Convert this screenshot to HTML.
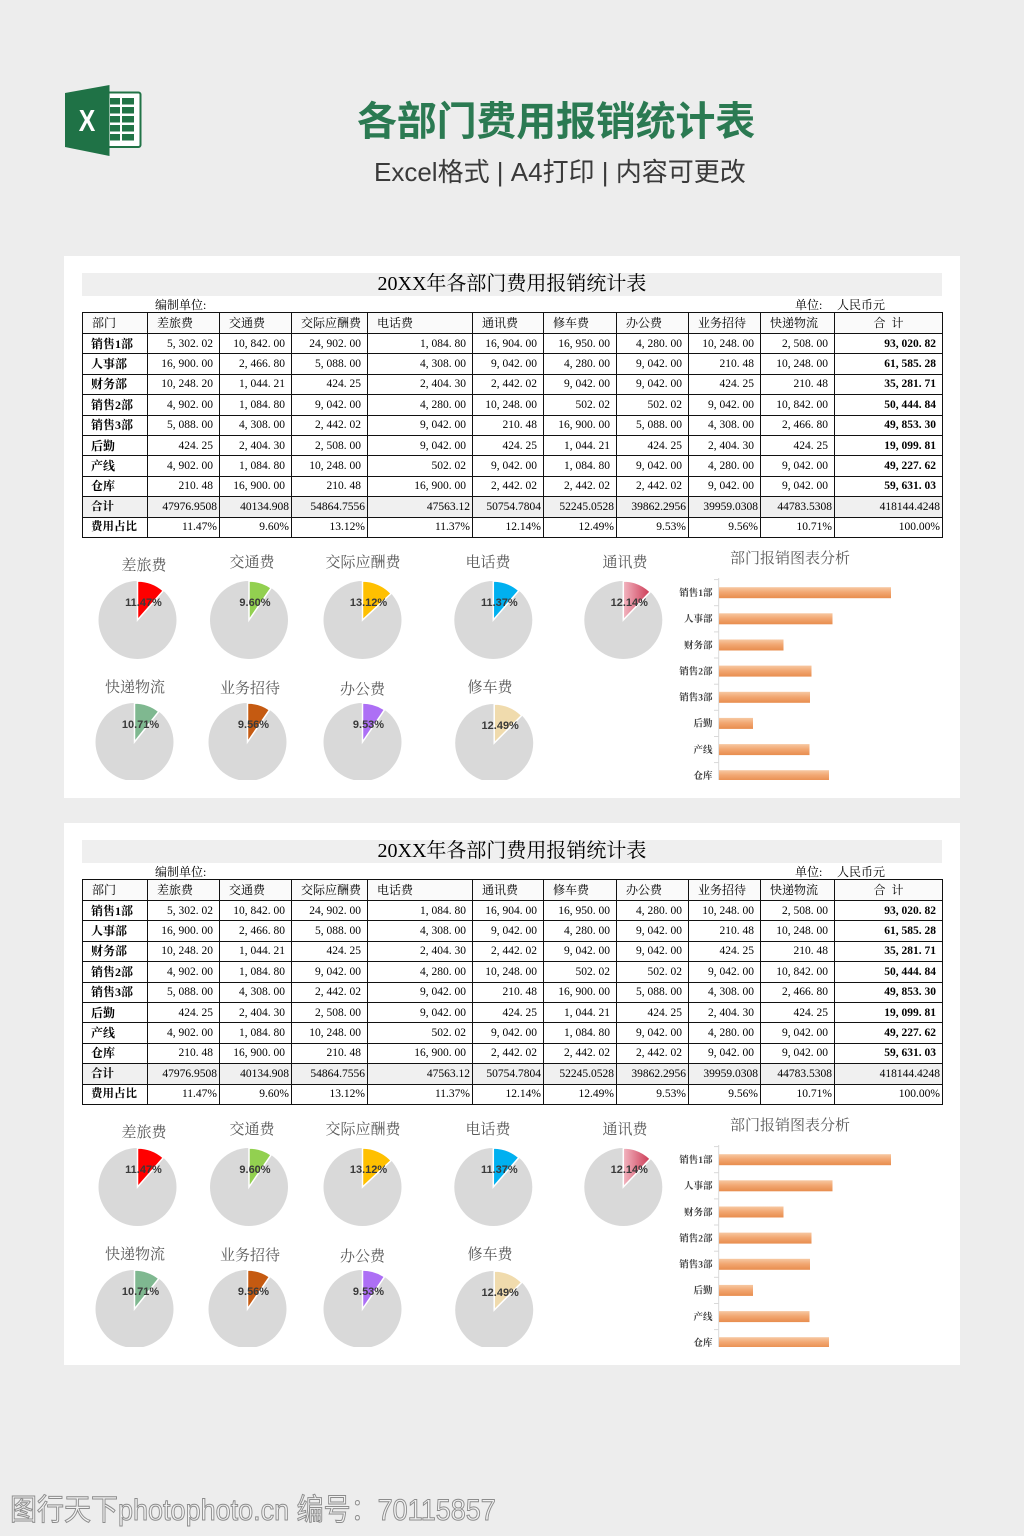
<!DOCTYPE html>
<html><head><meta charset="utf-8">
<style>
*{margin:0;padding:0;box-sizing:border-box}
html,body{width:1024px;height:1536px;background:#ededed;overflow:hidden;position:relative}
.abs{position:absolute}
.title{position:absolute;left:357px;top:94px;font:bold 40px/48px "Noto Sans CJK SC",sans-serif;color:#2b7a52;letter-spacing:-0.2px;white-space:nowrap}
.sub{position:absolute;left:374px;top:155px;font:26px/34px "Liberation Sans","Noto Sans CJK SC",sans-serif;color:#3a3a3a;white-space:nowrap}
.panel{position:absolute;left:64px;width:896px;height:542px;background:#fff}
.band{position:absolute;left:18px;top:17px;width:860px;height:23px;background:#efefef;font:20px/23px "Liberation Serif","Noto Serif CJK SC",serif;color:#000;text-align:center}
.u{position:absolute;top:42px;font:12px/14px "Liberation Serif","Noto Serif CJK SC",serif;color:#000;white-space:nowrap}
table{position:absolute;left:18px;top:56px;width:860px;border-collapse:collapse;table-layout:fixed;border:1.5px solid #000;font-family:"Liberation Serif","Noto Serif CJK SC",serif;color:#000}
td{border:1px solid #111;padding:0 6px 0 0;font-size:11.5px;line-height:12px;text-align:right;white-space:nowrap;overflow:hidden;vertical-align:middle}
tr{height:20.4px}
tr.h{height:21px;background:#fafafa}
tr.h td{text-align:left;padding-left:9px;font-size:12px}
tr.h td.c{text-align:center;padding:0}
td.l{text-align:left;padding-left:8px;font-weight:bold;font-size:12px}
td.t{font-weight:bold}
tr.g{background:#f0f0f0}
tr.g td,tr.p td{padding-right:2px;font-size:11.5px}
tr.g td.l,tr.p td.l{padding-left:8px}
svg text{font-family:"Liberation Serif","Noto Serif CJK SC",serif}
svg text.xl{font-family:"Liberation Sans",sans-serif;font-weight:bold}
.pl{font-family:"Liberation Sans",sans-serif !important;font-weight:bold;font-size:11px;fill:#3a3a3a;text-anchor:middle}
.pt{font-size:15px;fill:#595959;text-anchor:middle}
.bl{font-size:9.5px;fill:#404040;text-anchor:end;font-weight:bold}
.wm{position:absolute;left:10px;top:1494px;font:30px/34px "Liberation Sans","Noto Sans CJK SC",sans-serif;color:#f2f2f2;-webkit-text-stroke:1px #8c8c8c;transform:scaleX(0.9);transform-origin:left top;white-space:nowrap}
</style></head><body>

<svg class="abs" style="left:60px;top:80px" width="90" height="82" viewBox="60 80 90 82">
  <rect x="101" y="92.5" width="39.5" height="54.5" rx="2" fill="#fff" stroke="#217346" stroke-width="2"/>
  <g fill="#217346">
    <rect x="110" y="98" width="10" height="6.5"/><rect x="122" y="98" width="12" height="6.5"/>
    <rect x="110" y="107" width="10" height="6.5"/><rect x="122" y="107" width="12" height="6.5"/>
    <rect x="110" y="116" width="10" height="6.5"/><rect x="122" y="116" width="12" height="6.5"/>
    <rect x="110" y="125" width="10" height="6.5"/><rect x="122" y="125" width="12" height="6.5"/>
    <rect x="110" y="134" width="10" height="6.5"/><rect x="122" y="134" width="12" height="6.5"/>
  </g>
  <polygon points="65,93 109.5,85 109.5,156 65,147" fill="#1f7246"/>
  <text class="xl" x="87" y="131" font-size="31" fill="#fff" text-anchor="middle" transform="translate(87 0) scale(0.8 1) translate(-87 0)">X</text>
</svg>

<div class="title">各部门费用报销统计表</div>
<div class="sub">Excel格式 | A4打印 | 内容可更改</div>

<!-- PANEL 1 -->
<div class="panel" style="top:256px">
  <div class="band">20XX年各部门费用报销统计表</div>
  <div class="u" style="left:91px">编制单位:</div>
  <div class="u" style="left:731px">单位:</div>
  <div class="u" style="left:773px">人民币元</div>
  <table>
    <colgroup><col style="width:65px"><col style="width:72px"><col style="width:72px"><col style="width:76px"><col style="width:105px"><col style="width:71px"><col style="width:73px"><col style="width:72px"><col style="width:72px"><col style="width:74px"><col style="width:108px"></colgroup>
    <tr class="h"><td>部门</td><td>差旅费</td><td>交通费</td><td>交际应酬费</td><td>电话费</td><td>通讯费</td><td>修车费</td><td>办公费</td><td>业务招待</td><td>快递物流</td><td class="c">合&nbsp;&nbsp;计</td></tr>
    <tr><td class="l">销售1部</td><td>5, 302. 02</td><td>10, 842. 00</td><td>24, 902. 00</td><td>1, 084. 80</td><td>16, 904. 00</td><td>16, 950. 00</td><td>4, 280. 00</td><td>10, 248. 00</td><td>2, 508. 00</td><td class="t">93, 020. 82</td></tr>
    <tr><td class="l">人事部</td><td>16, 900. 00</td><td>2, 466. 80</td><td>5, 088. 00</td><td>4, 308. 00</td><td>9, 042. 00</td><td>4, 280. 00</td><td>9, 042. 00</td><td>210. 48</td><td>10, 248. 00</td><td class="t">61, 585. 28</td></tr>
    <tr><td class="l">财务部</td><td>10, 248. 20</td><td>1, 044. 21</td><td>424. 25</td><td>2, 404. 30</td><td>2, 442. 02</td><td>9, 042. 00</td><td>9, 042. 00</td><td>424. 25</td><td>210. 48</td><td class="t">35, 281. 71</td></tr>
    <tr><td class="l">销售2部</td><td>4, 902. 00</td><td>1, 084. 80</td><td>9, 042. 00</td><td>4, 280. 00</td><td>10, 248. 00</td><td>502. 02</td><td>502. 02</td><td>9, 042. 00</td><td>10, 842. 00</td><td class="t">50, 444. 84</td></tr>
    <tr><td class="l">销售3部</td><td>5, 088. 00</td><td>4, 308. 00</td><td>2, 442. 02</td><td>9, 042. 00</td><td>210. 48</td><td>16, 900. 00</td><td>5, 088. 00</td><td>4, 308. 00</td><td>2, 466. 80</td><td class="t">49, 853. 30</td></tr>
    <tr><td class="l">后勤</td><td>424. 25</td><td>2, 404. 30</td><td>2, 508. 00</td><td>9, 042. 00</td><td>424. 25</td><td>1, 044. 21</td><td>424. 25</td><td>2, 404. 30</td><td>424. 25</td><td class="t">19, 099. 81</td></tr>
    <tr><td class="l">产线</td><td>4, 902. 00</td><td>1, 084. 80</td><td>10, 248. 00</td><td>502. 02</td><td>9, 042. 00</td><td>1, 084. 80</td><td>9, 042. 00</td><td>4, 280. 00</td><td>9, 042. 00</td><td class="t">49, 227. 62</td></tr>
    <tr><td class="l">仓库</td><td>210. 48</td><td>16, 900. 00</td><td>210. 48</td><td>16, 900. 00</td><td>2, 442. 02</td><td>2, 442. 02</td><td>2, 442. 02</td><td>9, 042. 00</td><td>9, 042. 00</td><td class="t">59, 631. 03</td></tr>
    <tr class="g"><td class="l">合计</td><td>47976.9508</td><td>40134.908</td><td>54864.7556</td><td>47563.12</td><td>50754.7804</td><td>52245.0528</td><td>39862.2956</td><td>39959.0308</td><td>44783.5308</td><td>418144.4248</td></tr>
    <tr class="p"><td class="l">费用占比</td><td>11.47%</td><td>9.60%</td><td>13.12%</td><td>11.37%</td><td>12.14%</td><td>12.49%</td><td>9.53%</td><td>9.56%</td><td>10.71%</td><td>100.00%</td></tr>
  </table>
  <svg class="abs" style="left:0;top:0" width="896" height="542" viewBox="64 256 896 542">
    <defs>
      <clipPath id="c1"><rect x="64" y="256" width="896" height="524"/></clipPath>
      <linearGradient id="bg1" x1="0" y1="0" x2="0" y2="1"><stop offset="0" stop-color="#f7c8a2"/><stop offset="0.45" stop-color="#f2a873"/><stop offset="1" stop-color="#e88d4e"/></linearGradient>
      <linearGradient id="pk1" x1="0" y1="0" x2="1" y2="0"><stop offset="0" stop-color="#f2b5c0"/><stop offset="1" stop-color="#cc3a55"/></linearGradient>
    </defs>
    <text class="pt" x="144" y="570">差旅费</text>
    <text class="pt" x="252" y="567">交通费</text>
    <text class="pt" x="363" y="567">交际应酬费</text>
    <text class="pt" x="488" y="567">电话费</text>
    <text class="pt" x="625" y="567">通讯费</text>
    <text class="pt" x="135" y="692">快递物流</text>
    <text class="pt" x="250" y="693">业务招待</text>
    <text class="pt" x="362.5" y="694">办公费</text>
    <text class="pt" x="490" y="692">修车费</text>
    <g clip-path="url(#c1)">
      <circle cx="137.5" cy="620" r="39" fill="#d9d9d9"/>
      <path d="M137.5 620 L137.5 581 A39 39 0 0 1 163.24 590.70 Z" fill="#ff0000" stroke="#fff" stroke-width="1.5"/>
      <circle cx="249" cy="620" r="39" fill="#d9d9d9"/>
      <path d="M249 620 L249 581 A39 39 0 0 1 271.12 587.88 Z" fill="#92d050" stroke="#fff" stroke-width="1.5"/>
      <circle cx="362.5" cy="620" r="39" fill="#d9d9d9"/>
      <path d="M362.5 620 L362.5 581 A39 39 0 0 1 391.12 593.51 Z" fill="#ffc000" stroke="#fff" stroke-width="1.5"/>
      <circle cx="493.3" cy="620" r="39" fill="#d9d9d9"/>
      <path d="M493.3 620 L493.3 581 A39 39 0 0 1 518.85 590.54 Z" fill="#00b0f0" stroke="#fff" stroke-width="1.5"/>
      <circle cx="623.3" cy="620" r="39" fill="#d9d9d9"/>
      <path d="M623.3 620 L623.3 581 A39 39 0 0 1 650.25 591.80 Z" fill="url(#pk1)" stroke="#fff" stroke-width="1.5"/>
      <circle cx="134.5" cy="742" r="39" fill="#d9d9d9"/>
      <path d="M134.5 742 L134.5 703 A39 39 0 0 1 158.81 711.50 Z" fill="#7fb890" stroke="#fff" stroke-width="1.5"/>
      <circle cx="247.5" cy="742" r="39" fill="#d9d9d9"/>
      <path d="M247.5 742 L247.5 703 A39 39 0 0 1 269.54 709.83 Z" fill="#c55a11" stroke="#fff" stroke-width="1.5"/>
      <circle cx="362.5" cy="742" r="39" fill="#d9d9d9"/>
      <path d="M362.5 742 L362.5 703 A39 39 0 0 1 384.48 709.79 Z" fill="#ad6ff5" stroke="#fff" stroke-width="1.5"/>
      <circle cx="494.2" cy="743" r="39" fill="#d9d9d9"/>
      <path d="M494.2 743 L494.2 704 A39 39 0 0 1 521.76 715.40 Z" fill="#f0dbad" stroke="#fff" stroke-width="1.5"/>
      <text class="pl" x="143.5" y="606">11.47%</text>
      <text class="pl" x="255" y="606">9.60%</text>
      <text class="pl" x="368.5" y="606">13.12%</text>
      <text class="pl" x="499.3" y="606">11.37%</text>
      <text class="pl" x="629.3" y="606">12.14%</text>
      <text class="pl" x="140.5" y="728">10.71%</text>
      <text class="pl" x="253.5" y="728">9.56%</text>
      <text class="pl" x="368.5" y="728">9.53%</text>
      <text class="pl" x="500.2" y="729">12.49%</text>
      <text class="pt" x="790" y="563">部门报销图表分析</text>
      <line x1="718.7" y1="578" x2="718.7" y2="781" stroke="#d9d9d9" stroke-width="1"/>
      <g stroke="#d9d9d9" stroke-width="1">
        <line x1="714" y1="579.6" x2="719" y2="579.6"/><line x1="714" y1="605.7" x2="719" y2="605.7"/><line x1="714" y1="631.9" x2="719" y2="631.9"/><line x1="714" y1="658" x2="719" y2="658"/><line x1="714" y1="684.2" x2="719" y2="684.2"/><line x1="714" y1="710.3" x2="719" y2="710.3"/><line x1="714" y1="736.5" x2="719" y2="736.5"/><line x1="714" y1="762.6" x2="719" y2="762.6"/>
      </g>
      <rect x="719" y="587.2" width="172" height="11" fill="url(#bg1)"/>
      <rect x="719" y="613.3" width="113.5" height="11" fill="url(#bg1)"/>
      <rect x="719" y="639.5" width="64.5" height="11" fill="url(#bg1)"/>
      <rect x="719" y="665.6" width="92.5" height="11" fill="url(#bg1)"/>
      <rect x="719" y="691.8" width="91" height="11" fill="url(#bg1)"/>
      <rect x="719" y="717.9" width="34" height="11" fill="url(#bg1)"/>
      <rect x="719" y="744.1" width="90.5" height="11" fill="url(#bg1)"/>
      <rect x="719" y="770.2" width="110" height="11" fill="url(#bg1)"/>
      <text class="bl" x="712.5" y="596">销售1部</text>
      <text class="bl" x="712.5" y="622.1">人事部</text>
      <text class="bl" x="712.5" y="648.3">财务部</text>
      <text class="bl" x="712.5" y="674.4">销售2部</text>
      <text class="bl" x="712.5" y="700.6">销售3部</text>
      <text class="bl" x="712.5" y="726.7">后勤</text>
      <text class="bl" x="712.5" y="752.9">产线</text>
      <text class="bl" x="712.5" y="779">仓库</text>
    </g>
  </svg>
</div>

<!-- PANEL 2 -->
<div class="panel" style="top:823px">
  <div class="band">20XX年各部门费用报销统计表</div>
  <div class="u" style="left:91px">编制单位:</div>
  <div class="u" style="left:731px">单位:</div>
  <div class="u" style="left:773px">人民币元</div>
  <table>
    <colgroup><col style="width:65px"><col style="width:72px"><col style="width:72px"><col style="width:76px"><col style="width:105px"><col style="width:71px"><col style="width:73px"><col style="width:72px"><col style="width:72px"><col style="width:74px"><col style="width:108px"></colgroup>
    <tr class="h"><td>部门</td><td>差旅费</td><td>交通费</td><td>交际应酬费</td><td>电话费</td><td>通讯费</td><td>修车费</td><td>办公费</td><td>业务招待</td><td>快递物流</td><td class="c">合&nbsp;&nbsp;计</td></tr>
    <tr><td class="l">销售1部</td><td>5, 302. 02</td><td>10, 842. 00</td><td>24, 902. 00</td><td>1, 084. 80</td><td>16, 904. 00</td><td>16, 950. 00</td><td>4, 280. 00</td><td>10, 248. 00</td><td>2, 508. 00</td><td class="t">93, 020. 82</td></tr>
    <tr><td class="l">人事部</td><td>16, 900. 00</td><td>2, 466. 80</td><td>5, 088. 00</td><td>4, 308. 00</td><td>9, 042. 00</td><td>4, 280. 00</td><td>9, 042. 00</td><td>210. 48</td><td>10, 248. 00</td><td class="t">61, 585. 28</td></tr>
    <tr><td class="l">财务部</td><td>10, 248. 20</td><td>1, 044. 21</td><td>424. 25</td><td>2, 404. 30</td><td>2, 442. 02</td><td>9, 042. 00</td><td>9, 042. 00</td><td>424. 25</td><td>210. 48</td><td class="t">35, 281. 71</td></tr>
    <tr><td class="l">销售2部</td><td>4, 902. 00</td><td>1, 084. 80</td><td>9, 042. 00</td><td>4, 280. 00</td><td>10, 248. 00</td><td>502. 02</td><td>502. 02</td><td>9, 042. 00</td><td>10, 842. 00</td><td class="t">50, 444. 84</td></tr>
    <tr><td class="l">销售3部</td><td>5, 088. 00</td><td>4, 308. 00</td><td>2, 442. 02</td><td>9, 042. 00</td><td>210. 48</td><td>16, 900. 00</td><td>5, 088. 00</td><td>4, 308. 00</td><td>2, 466. 80</td><td class="t">49, 853. 30</td></tr>
    <tr><td class="l">后勤</td><td>424. 25</td><td>2, 404. 30</td><td>2, 508. 00</td><td>9, 042. 00</td><td>424. 25</td><td>1, 044. 21</td><td>424. 25</td><td>2, 404. 30</td><td>424. 25</td><td class="t">19, 099. 81</td></tr>
    <tr><td class="l">产线</td><td>4, 902. 00</td><td>1, 084. 80</td><td>10, 248. 00</td><td>502. 02</td><td>9, 042. 00</td><td>1, 084. 80</td><td>9, 042. 00</td><td>4, 280. 00</td><td>9, 042. 00</td><td class="t">49, 227. 62</td></tr>
    <tr><td class="l">仓库</td><td>210. 48</td><td>16, 900. 00</td><td>210. 48</td><td>16, 900. 00</td><td>2, 442. 02</td><td>2, 442. 02</td><td>2, 442. 02</td><td>9, 042. 00</td><td>9, 042. 00</td><td class="t">59, 631. 03</td></tr>
    <tr class="g"><td class="l">合计</td><td>47976.9508</td><td>40134.908</td><td>54864.7556</td><td>47563.12</td><td>50754.7804</td><td>52245.0528</td><td>39862.2956</td><td>39959.0308</td><td>44783.5308</td><td>418144.4248</td></tr>
    <tr class="p"><td class="l">费用占比</td><td>11.47%</td><td>9.60%</td><td>13.12%</td><td>11.37%</td><td>12.14%</td><td>12.49%</td><td>9.53%</td><td>9.56%</td><td>10.71%</td><td>100.00%</td></tr>
  </table>
  <svg class="abs" style="left:0;top:0" width="896" height="542" viewBox="64 256 896 542">
    <defs>
      <clipPath id="c2"><rect x="64" y="256" width="896" height="524"/></clipPath>
      <linearGradient id="bg2" x1="0" y1="0" x2="0" y2="1"><stop offset="0" stop-color="#f7c8a2"/><stop offset="0.45" stop-color="#f2a873"/><stop offset="1" stop-color="#e88d4e"/></linearGradient>
      <linearGradient id="pk2" x1="0" y1="0" x2="1" y2="0"><stop offset="0" stop-color="#f2b5c0"/><stop offset="1" stop-color="#cc3a55"/></linearGradient>
    </defs>
    <text class="pt" x="144" y="570">差旅费</text>
    <text class="pt" x="252" y="567">交通费</text>
    <text class="pt" x="363" y="567">交际应酬费</text>
    <text class="pt" x="488" y="567">电话费</text>
    <text class="pt" x="625" y="567">通讯费</text>
    <text class="pt" x="135" y="692">快递物流</text>
    <text class="pt" x="250" y="693">业务招待</text>
    <text class="pt" x="362.5" y="694">办公费</text>
    <text class="pt" x="490" y="692">修车费</text>
    <g clip-path="url(#c2)">
      <circle cx="137.5" cy="620" r="39" fill="#d9d9d9"/>
      <path d="M137.5 620 L137.5 581 A39 39 0 0 1 163.24 590.70 Z" fill="#ff0000" stroke="#fff" stroke-width="1.5"/>
      <circle cx="249" cy="620" r="39" fill="#d9d9d9"/>
      <path d="M249 620 L249 581 A39 39 0 0 1 271.12 587.88 Z" fill="#92d050" stroke="#fff" stroke-width="1.5"/>
      <circle cx="362.5" cy="620" r="39" fill="#d9d9d9"/>
      <path d="M362.5 620 L362.5 581 A39 39 0 0 1 391.12 593.51 Z" fill="#ffc000" stroke="#fff" stroke-width="1.5"/>
      <circle cx="493.3" cy="620" r="39" fill="#d9d9d9"/>
      <path d="M493.3 620 L493.3 581 A39 39 0 0 1 518.85 590.54 Z" fill="#00b0f0" stroke="#fff" stroke-width="1.5"/>
      <circle cx="623.3" cy="620" r="39" fill="#d9d9d9"/>
      <path d="M623.3 620 L623.3 581 A39 39 0 0 1 650.25 591.80 Z" fill="url(#pk2)" stroke="#fff" stroke-width="1.5"/>
      <circle cx="134.5" cy="742" r="39" fill="#d9d9d9"/>
      <path d="M134.5 742 L134.5 703 A39 39 0 0 1 158.81 711.50 Z" fill="#7fb890" stroke="#fff" stroke-width="1.5"/>
      <circle cx="247.5" cy="742" r="39" fill="#d9d9d9"/>
      <path d="M247.5 742 L247.5 703 A39 39 0 0 1 269.54 709.83 Z" fill="#c55a11" stroke="#fff" stroke-width="1.5"/>
      <circle cx="362.5" cy="742" r="39" fill="#d9d9d9"/>
      <path d="M362.5 742 L362.5 703 A39 39 0 0 1 384.48 709.79 Z" fill="#ad6ff5" stroke="#fff" stroke-width="1.5"/>
      <circle cx="494.2" cy="743" r="39" fill="#d9d9d9"/>
      <path d="M494.2 743 L494.2 704 A39 39 0 0 1 521.76 715.40 Z" fill="#f0dbad" stroke="#fff" stroke-width="1.5"/>
      <text class="pl" x="143.5" y="606">11.47%</text>
      <text class="pl" x="255" y="606">9.60%</text>
      <text class="pl" x="368.5" y="606">13.12%</text>
      <text class="pl" x="499.3" y="606">11.37%</text>
      <text class="pl" x="629.3" y="606">12.14%</text>
      <text class="pl" x="140.5" y="728">10.71%</text>
      <text class="pl" x="253.5" y="728">9.56%</text>
      <text class="pl" x="368.5" y="728">9.53%</text>
      <text class="pl" x="500.2" y="729">12.49%</text>
      <text class="pt" x="790" y="563">部门报销图表分析</text>
      <line x1="718.7" y1="578" x2="718.7" y2="781" stroke="#d9d9d9" stroke-width="1"/>
      <g stroke="#d9d9d9" stroke-width="1">
        <line x1="714" y1="579.6" x2="719" y2="579.6"/><line x1="714" y1="605.7" x2="719" y2="605.7"/><line x1="714" y1="631.9" x2="719" y2="631.9"/><line x1="714" y1="658" x2="719" y2="658"/><line x1="714" y1="684.2" x2="719" y2="684.2"/><line x1="714" y1="710.3" x2="719" y2="710.3"/><line x1="714" y1="736.5" x2="719" y2="736.5"/><line x1="714" y1="762.6" x2="719" y2="762.6"/>
      </g>
      <rect x="719" y="587.2" width="172" height="11" fill="url(#bg2)"/>
      <rect x="719" y="613.3" width="113.5" height="11" fill="url(#bg2)"/>
      <rect x="719" y="639.5" width="64.5" height="11" fill="url(#bg2)"/>
      <rect x="719" y="665.6" width="92.5" height="11" fill="url(#bg2)"/>
      <rect x="719" y="691.8" width="91" height="11" fill="url(#bg2)"/>
      <rect x="719" y="717.9" width="34" height="11" fill="url(#bg2)"/>
      <rect x="719" y="744.1" width="90.5" height="11" fill="url(#bg2)"/>
      <rect x="719" y="770.2" width="110" height="11" fill="url(#bg2)"/>
      <text class="bl" x="712.5" y="596">销售1部</text>
      <text class="bl" x="712.5" y="622.1">人事部</text>
      <text class="bl" x="712.5" y="648.3">财务部</text>
      <text class="bl" x="712.5" y="674.4">销售2部</text>
      <text class="bl" x="712.5" y="700.6">销售3部</text>
      <text class="bl" x="712.5" y="726.7">后勤</text>
      <text class="bl" x="712.5" y="752.9">产线</text>
      <text class="bl" x="712.5" y="779">仓库</text>
    </g>
  </svg>
</div>

<div class="wm">图行天下photophoto.cn 编号：70115857</div>
</body></html>
